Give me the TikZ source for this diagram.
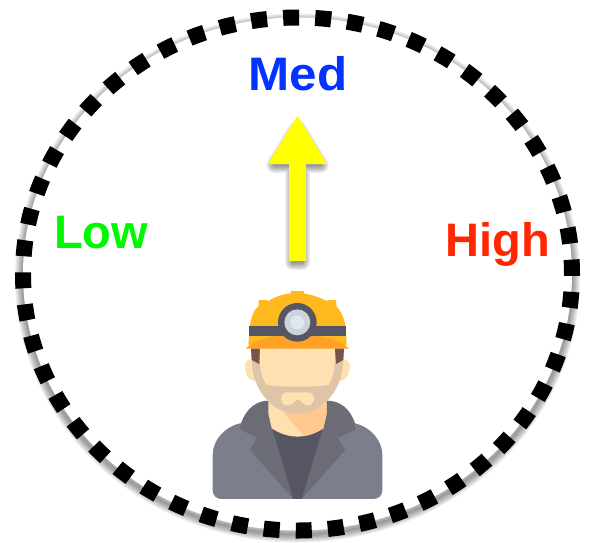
\documentclass[tikz,border=0pt]{standalone}
\usepackage{fontspec}
\setmainfont{Liberation Sans}
\usepackage{tikz}
\usetikzlibrary{arrows.meta,calc}
\definecolor{MedBlue}{HTML}{0433FF}
\definecolor{LowGreen}{HTML}{00F900}
\definecolor{HighRed}{HTML}{FF2600}
\definecolor{ArrowYellow}{HTML}{FFFF00}
\definecolor{JacketGray}{HTML}{7B7F8B}
\definecolor{CollarGray}{HTML}{6C6C77}
\definecolor{ShirtDark}{HTML}{565564}
\definecolor{SkinLight}{HTML}{FFE0B0}
\definecolor{SkinShade}{HTML}{FFC88C}
\definecolor{BeardTan}{HTML}{DFC5A8}
\definecolor{HairBrown}{HTML}{77554A}
\definecolor{HelmetYellow}{HTML}{FFB91F}
\definecolor{BrimOrange}{HTML}{FFA126}
\definecolor{LampOuter}{HTML}{CCD3DB}
\definecolor{LampInner}{HTML}{E0E7EF}
\tikzset{
  zonelabel/.style={font=\bfseries\fontsize{47}{47}\selectfont,anchor=base,inner sep=0pt},
  ringdash/.style={black,line width=16pt,dash pattern=on 16pt off 16.09pt,dash phase=14.2pt},
  softshadow/.style={black,line width=#1,opacity=0.06,line join=round},
}
\begin{document}
\begin{tikzpicture}[x=1pt,y=-1pt]
        \useasboundingbox (0,0) rectangle (592,542);
        % ring
        \foreach \w in {2,4,...,16}
          \draw[softshadow=\w pt] (297.5,278) ellipse [x radius=274.5,y radius=256.5];
        \fill[white] (297.5,274) ellipse [x radius=274.5,y radius=256.5];
        \draw[ringdash] (297.5,274) ellipse [x radius=274.5,y radius=256.5];
        % labels
        \node[zonelabel,text=MedBlue,xscale=1.05] (med) at (298,90) {Med};
        \node[zonelabel,text=LowGreen] (low) at (101,248) {Low};
        \node[zonelabel,text=HighRed] (high) at (497.5,256) {High};
        % arrow
        \coordinate (arrowtail) at (297.5,261);
        \coordinate (arrowtip) at (297.5,115);
        \foreach \w in {2,4,...,16}
          \draw[softshadow=\w pt] (293,262) -- (293,165) -- (274.2,165) -- (297.5,127.6)
            -- (320.8,165) -- (302,165) -- (302,262) -- cycle;
        \draw[-{Triangle[length=49pt,width=55pt]},line width=17pt,ArrowYellow] (arrowtail) -- (arrowtip);
        % miner, coordinates as in a 3x crop
        \begin{scope}[shift={(200,280)},x=0.3333pt,y=-0.3333pt]
          \fill[JacketGray] (38,630) -- (38,525) .. controls (38,480) and (75,440) .. (120,430)
            -- (465,430) .. controls (510,440) and (547,480) .. (547,525) -- (547,630)
            .. controls (547,648) and (535,657) .. (520,657) -- (65,657)
            .. controls (50,657) and (38,648) .. (38,630) -- cycle;
          \fill[CollarGray] (118,447) -- (125,425) .. controls (140,385) and (170,362) .. (205,362)
            -- (380,362) .. controls (420,362) and (450,385) .. (465,430) -- (467,449) -- (413,474)
            -- (436,510) -- (305,657) -- (280,657) -- (150,510) -- (172,474) -- cycle;
          \fill[ShirtDark] (215,440) -- (370,440) -- (305,657) -- (280,657) -- cycle;
          \fill[SkinLight] (205,340) -- (380,340) -- (380,400) -- (370,445)
            .. controls (320,478) and (265,478) .. (215,445) -- (205,400) -- cycle;
          \fill[SkinShade] (250,397) .. controls (300,400) and (350,390) .. (380,370) -- (380,400) -- (370,445)
            .. controls (350,458) and (330,465) .. (312,468) .. controls (290,440) and (270,420) .. (250,397) -- cycle;
          \fill[SkinLight] (152,238) .. controls (130,240) and (130,270) .. (145,292) .. controls (152,304) and (165,304) .. (172,300) -- cycle;
          \fill[SkinLight] (432,238) .. controls (454,240) and (454,270) .. (439,292) .. controls (432,304) and (419,304) .. (412,300) -- cycle;
          \fill[BeardTan] (155,205) -- (430,205) -- (430,245) .. controls (425,340) and (360,402) .. (292,402)
            .. controls (225,402) and (160,340) .. (155,245) -- cycle;
          \fill[HairBrown] (153,205) -- (180,205) -- (178,252) -- (155,240) -- cycle;
          \fill[HairBrown] (405,205) -- (432,205) -- (430,240) -- (408,252) -- cycle;
          \fill[SkinLight] (180,205) -- (405,205) -- (405,245) .. controls (403,280) and (395,300) .. (385,315)
            .. controls (325,322) and (260,322) .. (200,315) .. controls (190,300) and (180,280) .. (180,245) -- cycle;
          \fill[SkinLight] (262,337) -- (325,337) .. controls (348,337) and (348,376) .. (322,376)
            .. controls (310,376) and (305,362) .. (293,358) .. controls (282,362) and (278,376) .. (262,376)
            .. controls (238,376) and (238,337) .. (262,337) -- cycle;
          \fill[HelmetYellow] (145,195) -- (150,135) .. controls (155,105) and (165,85) .. (176,78) -- (176,60) -- (198,60)
            -- (205,63) .. controls (225,50) and (250,42) .. (273,40) -- (273,33) -- (310,33) -- (313,41)
            .. controls (335,44) and (360,52) .. (380,63) -- (385,60) -- (408,60) -- (410,80)
            .. controls (425,95) and (435,120) .. (438,150) -- (440,195) -- cycle;
          \fill[BrimOrange] (137,206) .. controls (190,150) and (395,150) .. (447,206) -- cycle;
          \fill[ShirtDark] (147,138) rectangle (437,167);
          \fill[ShirtDark] (292,127) circle (58);
          \fill[LampOuter] (292,127) circle (39);
          \fill[LampInner] (292,127) circle (21);
        \end{scope}
      \end{tikzpicture}
\end{document}
